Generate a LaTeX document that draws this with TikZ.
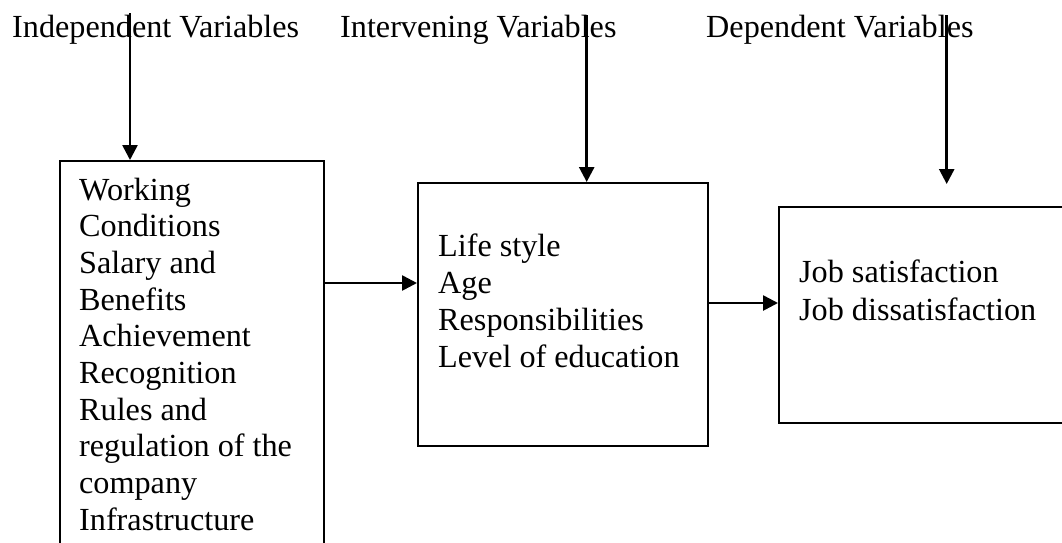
\documentclass[tikz,border=0pt]{standalone}
\usepackage{fontspec}
\setmainfont{Liberation Serif}
\usetikzlibrary{arrows.meta}
\begin{document}
\begin{tikzpicture}[x=1pt,y=1pt,
  txt/.style={anchor=base west,inner sep=0pt,align=left,font=\fontsize{32.2}{36.7}\selectfont},
  boxnode/.style={draw,line width=2.2pt,anchor=north west,inner sep=0pt},
  arr/.style={line width=2.6pt,-{Triangle[length=15pt,width=15pt]}}]
\path[use as bounding box,clip] (0,0) rectangle (1062,-542);
% titles
\node[txt] (t1) at (12,-37) {Independent Variables};
\node[txt] (t2) at (340,-37) {Intervening Variables};
\node[txt] (t3) at (706,-37) {Dependent Variables};
% boxes
\node[boxnode,minimum width=264pt,minimum height=420pt] (b1) at (58.7,-160) {};
\node[boxnode,minimum width=290pt,minimum height=263pt] (b2) at (417,-182) {};
\node[boxnode,minimum width=300pt,minimum height=216pt] (b3) at (778,-206) {};
% texts (anchor = baseline of last line)
\node[txt] (x1) at (79,-530.3) {Working\\Conditions\\Salary and\\Benefits\\Achievement\\Recognition\\Rules and\\regulation of the\\company\\Infrastructure};
\node[txt,font=\fontsize{32.2}{37.2}\selectfont] (x2) at (438,-367.7) {Life style\\Age\\Responsibilities\\Level of education};
\node[txt,font=\fontsize{32.2}{38}\selectfont] (x3) at (799,-320) {Job satisfaction\\Job dissatisfaction};
% arrow start points
\coordinate (s1) at (130,-13);
\coordinate (s2) at (586.7,-15);
\coordinate (s3) at (946.7,-15);
\draw[arr] (s1) -- (s1 |- b1.north);
\draw[arr] (s2) -- (s2 |- b2.north);
\draw[arr] (s3) -- (s3 |- 0,-184);
\coordinate (h1) at (0,-283);
\coordinate (h2) at (0,-303);
\draw[arr] (b1.east |- h1) -- (b2.west |- h1);
\draw[arr] (b2.east |- h2) -- (b3.west |- h2);
\end{tikzpicture}
\end{document}
